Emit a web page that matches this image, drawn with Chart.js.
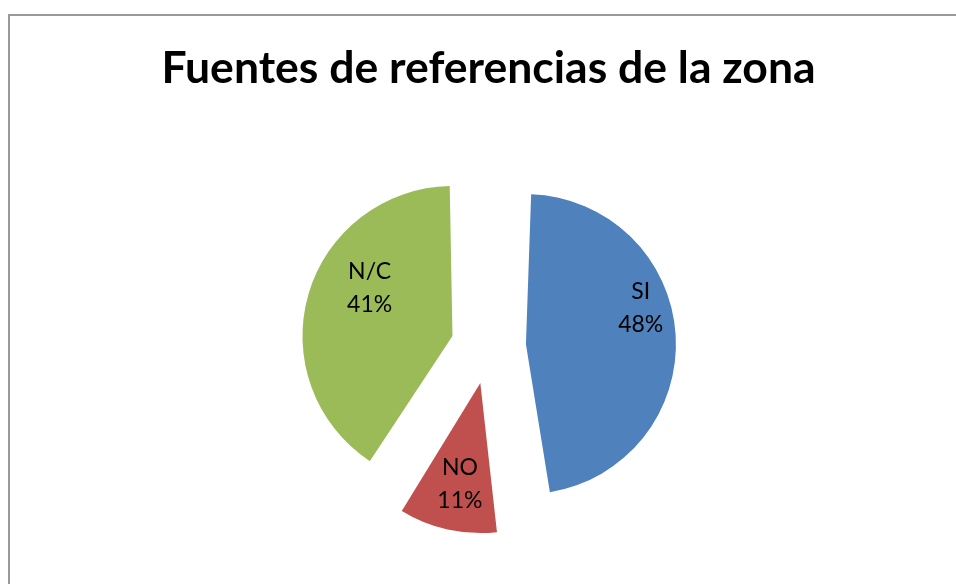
<!DOCTYPE html>
<html>
<head>
<meta charset="utf-8">
<script src="https://cdn.jsdelivr.net/npm/chart.js@4/dist/chart.umd.min.js"></script>
<style>
    html, body { margin: 0; padding: 0; background: #fff; }
    #wrap { position: relative; width: 956px; height: 584px; overflow: hidden; }
    #frame {
        position: absolute; left: 8px; top: 14px; width: 980px; height: 600px;
        border-top: 2px solid #9a9a9a; border-left: 2px solid #9a9a9a;
    }
    #pieChart { position: absolute; left: 0; top: 0; }
</style>
</head>
<body>
<div id="wrap">
    <div id="frame"></div>
    <canvas id="pieChart" width="956" height="584"></canvas>
</div>
<script>
// Datos
const categorias = ['SI', 'NO', 'N/C'];
const valores = [48, 11, 41];
const colores = ['#4F81BD', '#C0504D', '#9BBB59'];

const total = valores.reduce((a, b) => a + b, 0);
const RADIO = 150;        // radio visible de cada porción (px)
const SEPARACION = 37.5;  // desplazamiento de cada porción (px)

// Chart.js traslada el arco offset/4 y además agranda su radio offset/4 * fix;
// se compensa el radio para que todas las porciones tengan el mismo tamaño
const radioIgual = {
    id: 'radioIgual',
    beforeDatasetsDraw(chart) {
        chart.getDatasetMeta(0).data.forEach(arc => {
            const fix = 1 - Math.sin(Math.min(Math.PI, arc.circumference || 0));
            arc.outerRadius = RADIO - (arc.options.offset / 4) * fix;
        });
    }
};

// Etiquetas dentro de cada porción (nombre + porcentaje)
const etiquetasPie = {
    id: 'etiquetasPie',
    afterDatasetsDraw(chart, args, opts) {
        const ctx = chart.ctx;
        const meta = chart.getDatasetMeta(0);
        ctx.save();
        ctx.font = opts.font;
        ctx.fillStyle = '#000';
        ctx.textAlign = 'center';
        ctx.textBaseline = 'middle';
        meta.data.forEach((arc, i) => {
            const p = arc.getProps(['x', 'y', 'startAngle', 'endAngle']);
            const mid = (p.startAngle + p.endAngle) / 2;
            const d = SEPARACION + RADIO * opts.radio;
            const ajuste = opts.ajustes[chart.data.labels[i]] || [0, 0];
            const x = p.x + Math.cos(mid) * d + ajuste[0];
            const y = p.y + Math.sin(mid) * d + ajuste[1];
            const pct = Math.round(valores[i] / total * 100) + '%';
            ctx.fillText(chart.data.labels[i], x, y - opts.interlineado / 2);
            ctx.fillText(pct, x, y + opts.interlineado / 2);
        });
        ctx.restore();
    }
};

const pieCtx = document.getElementById('pieChart').getContext('2d');
const pieChart = new Chart(pieCtx, {
    type: 'pie',
    data: {
        labels: categorias,
        datasets: [
            {
                data: valores,
                backgroundColor: colores,
                borderWidth: 0,
                offset: SEPARACION * 4,
                radius: RADIO
            }
        ]
    },
    options: {
        responsive: false,
        animation: false,
        events: [],
        layout: {
            padding: { left: 21, right: 0, top: 0, bottom: 1 }
        },
        plugins: {
            legend: { display: false },
            tooltip: { enabled: false },
            title: {
                display: true,
                text: 'Fuentes de referencias de la zona',
                color: '#000',
                font: { family: 'Lato', size: 44.5, weight: 'bold', lineHeight: 1.2 },
                padding: { top: 42, bottom: 14.6 }
            },
            etiquetasPie: {
                font: '23px Lato',
                radio: 0.7,
                interlineado: 33,
                ajustes: { 'SI': [10, -29.5], 'NO': [2.5, -1.5], 'N/C': [18, -19] }
            }
        }
    },
    plugins: [radioIgual, etiquetasPie]
});
</script>
</body>
</html>
